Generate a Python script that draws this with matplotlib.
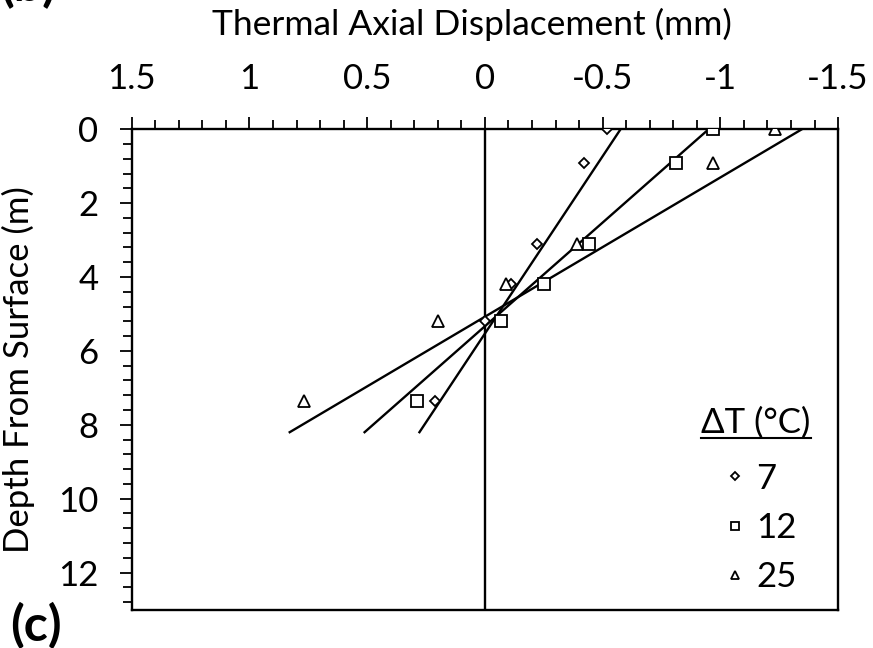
import matplotlib
matplotlib.use('Agg')
import matplotlib.pyplot as plt
from matplotlib.ticker import MultipleLocator
from matplotlib.lines import Line2D

plt.rcParams['font.family'] = ['Lato', 'DejaVu Sans']

# measured depths (m) and thermal axial displacement (mm) per temperature change
depths = [0.0, 0.9, 3.1, 4.2, 5.2, 7.35]
disp_7 = [-0.52, -0.42, -0.22, -0.11, 0.0, 0.21]
disp_12 = [-0.97, -0.81, -0.44, -0.25, -0.07, 0.29]
disp_25 = [-1.23, -0.97, -0.39, -0.09, 0.20, 0.77]

# linear trend lines: displacement at top and bottom of the fitted depth range
trend_depths = [0.0, 8.2]
trend_7 = [-0.576, 0.278]
trend_12 = [-0.95, 0.511]
trend_25 = [-1.346, 0.829]

delta_T = ['7', '12', '25']
x_ticks = [1.5, 1, 0.5, 0, -0.5, -1, -1.5]
x_tick_labels = ['1.5', '1', '0.5', '0', '-0.5', '-1', '-1.5']
y_ticks = [0, 2, 4, 6, 8, 10, 12]

fig = plt.figure(figsize=(8.73, 6.48), dpi=100)
ax = fig.add_axes([0.1509, 0.0594, 0.8091, 0.7411])

ax.axvline(0, color='black', lw=1.7, zorder=1)

styles = [('D', 5.5), ('s', 8.0), ('^', 8.0)]
legend_ms = [4.5, 6.0, 6.0]
series = [disp_7, disp_12, disp_25]
trends = [trend_7, trend_12, trend_25]
handles = []
for (mk, ms), lms, disp, tr, lab in zip(styles, legend_ms, series, trends, delta_T):
    ax.plot(tr, trend_depths, color='black', lw=1.7, zorder=2)
    ax.plot(disp, depths, linestyle='none', marker=mk, ms=ms, mfc='white',
            mec='black', mew=1.3, zorder=3)
    handles.append(Line2D([], [], linestyle='none', marker=mk, ms=lms,
                          mfc='white', mec='black', mew=1.3, label=lab))

ax.set_xlim(1.5, -1.5)
ax.set_ylim(13, 0)
ax.xaxis.tick_top()
ax.xaxis.set_label_position('top')
ax.set_xticks(x_ticks)
ax.set_xticklabels(x_tick_labels)
ax.set_yticks(y_ticks)
ax.xaxis.set_minor_locator(MultipleLocator(0.1))
ax.yaxis.set_minor_locator(MultipleLocator(0.4))

ax.tick_params(which='major', length=9, width=1.3, direction='out', labelsize=25, colors='black')
ax.tick_params(which='minor', length=6.5, width=1.3, direction='out')
ax.tick_params(axis='x', which='major', pad=16)
ax.tick_params(axis='y', which='major', pad=15)
for s in ax.spines.values():
    s.set_linewidth(1.7)

ax.set_xlabel('Thermal Axial Displacement (mm)', fontsize=25.5)
ax.set_ylabel('Depth From Surface (m)', fontsize=25)
ax.xaxis.set_label_coords(0.482, 1.196)
ax.yaxis.set_label_coords(-0.137, 0.5)

leg = ax.legend(handles=handles, loc='center left', bbox_to_anchor=(0.840, 0.170),
                frameon=False, fontsize=25, handlelength=0.6, handletextpad=0.3,
                labelspacing=0.5, borderpad=0, borderaxespad=0)

# legend heading, underlined
head = ax.text(0.8838, 0.388, '\u0394T (\u00b0C)', transform=ax.transAxes,
               ha='center', va='center', fontsize=25)
fig.canvas.draw()
bb = head.get_window_extent().transformed(fig.transFigure.inverted())
fig.add_artist(Line2D([bb.x0, bb.x1], [bb.y0 + 0.002, bb.y0 + 0.002],
                      transform=fig.transFigure, color='black', lw=1.5))

fig.text(0.0, 1.0 + 14 / 648, '(b)', fontsize=36, fontweight='bold', va='center')
fig.text(0.012, 0.034, '(c)', fontsize=36, fontweight='bold', va='center')

fig.savefig('out.png', dpi=100)
